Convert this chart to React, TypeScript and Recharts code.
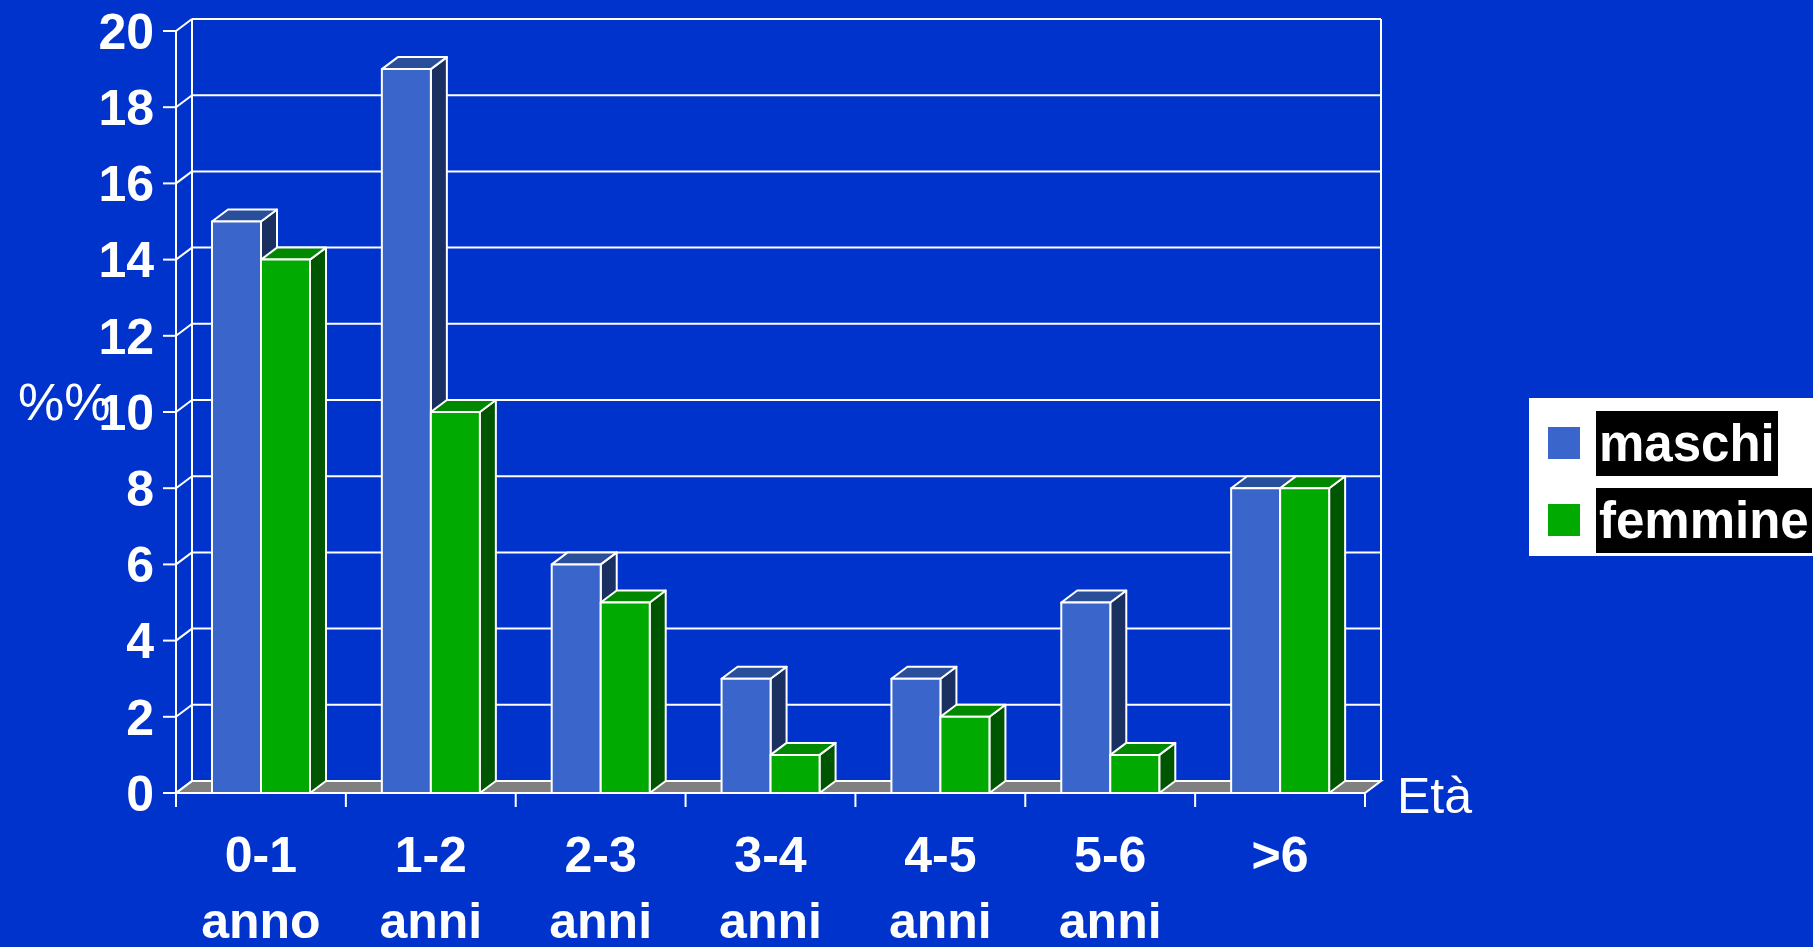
import React from 'react';
import { BarChart, Bar, XAxis, YAxis, CartesianGrid, Legend } from 'recharts';

// age classes, split in two label rows
const ranges = ['0-1', '1-2', '2-3', '3-4', '4-5', '5-6', '>6'];
const units = ['anno', 'anni', 'anni', 'anni', 'anni', 'anni', ''];
const maschi = [15, 19, 6, 3, 3, 5, 8];
const femmine = [14, 10, 5, 1, 2, 1, 8];
const yTicks = [0, 2, 4, 6, 8, 10, 12, 14, 16, 18, 20];
const seriesOrder = ['maschi', 'femmine'];

const data = ranges.map((r, i) => ({ range: r, maschi: maschi[i], femmine: femmine[i] }));

const W = 1813;
const H = 947;
const DX = 16; // 3d depth
const DY = 12;
const PLOT_TOP = 31;
const PLOT_BOTTOM = 793;
const PLOT_LEFT = 176;
const PLOT_RIGHT = 1365;
const BAND = (PLOT_RIGHT - PLOT_LEFT) / ranges.length;
const BG = '#0033CC';
const FONT = 'Arial, "Liberation Sans", sans-serif';

const Bar3D = (props: any) => {
  const { x, y, width, height, fill, topFill, sideFill } = props;
  if (!width || height == null) return null;
  const top = `${x},${y} ${x + DX},${y - DY} ${x + width + DX},${y - DY} ${x + width},${y}`;
  const side = `${x + width},${y} ${x + width + DX},${y - DY} ${x + width + DX},${y + height - DY} ${x + width},${y + height}`;
  return (
    <g stroke="#fff" strokeWidth={2} strokeLinejoin="round">
      <polygon points={side} fill={sideFill} />
      <polygon points={top} fill={topFill} />
      <rect x={x} y={y} width={width} height={height} fill={fill} />
    </g>
  );
};

// back wall lines + floor, drawn from the y axis ticks
const wallLine = (p: any) => {
  const { x1, x2, y1, index } = p;
  const bottom = Math.abs(y1 - PLOT_BOTTOM) < 1;
  return (
    <g key={`wall-${index}`} stroke="#fff" strokeWidth={2}>
      {bottom && (
        <polygon
          points={`${x1},${y1} ${x1 + DX},${y1 - DY} ${x2 + DX},${y1 - DY} ${x2},${y1}`}
          fill="#808080"
        />
      )}
      {bottom && <line x1={x1 + DX} y1={PLOT_TOP - DY} x2={x1 + DX} y2={y1 - DY} />}
      {bottom && <line x1={x2 + DX} y1={PLOT_TOP - DY} x2={x2 + DX} y2={y1 - DY} />}
      <line x1={x1 + DX} y1={y1 - DY} x2={x2 + DX} y2={y1 - DY} />
      <line x1={x1} y1={y1} x2={x1 + DX} y2={y1 - DY} />
    </g>
  );
};

const CategoryTick = (props: any) => {
  const { x, y, payload, index } = props;
  const i = ranges.indexOf(payload.value);
  const last = index === ranges.length - 1;
  return (
    <g>
      <line x1={x - BAND / 2} y1={y} x2={x - BAND / 2} y2={y + 14} stroke="#fff" strokeWidth={2} />
      {last && <line x1={x + BAND / 2} y1={y} x2={x + BAND / 2} y2={y + 14} stroke="#fff" strokeWidth={2} />}
      <text x={x} textAnchor="middle" fill="#fff" fontSize={50} fontWeight="bold" fontFamily={FONT}>
        <tspan x={x} y={y + 79}>{payload.value}</tspan>
        {units[i] ? <tspan x={x} y={y + 145}>{units[i]}</tspan> : null}
      </text>
    </g>
  );
};

const LegendBox = (props: any) => {
  const payload = [...(props.payload || [])].sort(
    (a: any, b: any) => seriesOrder.indexOf(a.value) - seriesOrder.indexOf(b.value)
  );
  return (
    <div style={{ position: 'relative', width: 300, height: 158, background: '#fff' }}>
      {payload.map((e: any, i: number) => (
        <div key={e.value} style={{ position: 'absolute', left: 0, top: 13 + i * 77 }}>
          <div style={{ position: 'absolute', left: 19, top: 16, width: 32, height: 32, background: e.color }} />
          <div
            style={{
              position: 'absolute',
              left: 67,
              top: 0,
              height: 65,
              lineHeight: '65px',
              padding: '0 3px',
              background: '#000',
              color: '#fff',
              fontSize: 51,
              fontWeight: 'bold',
              fontFamily: FONT,
              whiteSpace: 'nowrap',
            }}
          >
            {e.value}
          </div>
        </div>
      ))}
    </div>
  );
};

export default function App() {
  return (
    <div style={{ position: 'absolute', left: 0, top: 0, width: W, height: H, background: BG, overflow: 'hidden' }}>
      <svg width={W} height={H} style={{ position: 'absolute', left: 0, top: 0 }}>
        <text x={18} y={420} fill="#fff" fontSize={52} fontFamily={FONT}>%%</text>
        <text x={1397} y={813} fill="#fff" fontSize={50} fontFamily={FONT}>Età</text>
      </svg>
      <div style={{ position: 'absolute', left: 0, top: 0 }}>
        <BarChart
          width={W}
          height={H}
          data={data}
          margin={{ top: PLOT_TOP, right: W - PLOT_RIGHT, bottom: 0, left: 0 }}
          barCategoryGap={36}
          barGap={0}
        >
          <CartesianGrid vertical={false} horizontal={wallLine} />
          <XAxis
            dataKey="range"
            height={H - PLOT_BOTTOM}
            tickSize={0}
            tickMargin={0}
            axisLine={{ stroke: '#fff', strokeWidth: 2 }}
            tickLine={false}
            interval={0}
            tick={<CategoryTick />}
          />
          <YAxis
            domain={[0, 20]}
            ticks={yTicks}
            width={PLOT_LEFT}
            tickSize={13}
            tickMargin={9}
            axisLine={{ stroke: '#fff', strokeWidth: 2 }}
            tickLine={{ stroke: '#fff', strokeWidth: 2 }}
            tick={{ fill: '#fff', fontSize: 50, fontWeight: 'bold', fontFamily: FONT }}
          />
          <Legend
            layout="vertical"
            align="center"
            verticalAlign="middle"
            content={<LegendBox />}
            wrapperStyle={{ left: 1529, top: 398, width: 300, height: 158 }}
          />
          <Bar
            dataKey="maschi"
            name="maschi"
            fill="#3A66CC"
            isAnimationActive={false}
            shape={(p: any) => <Bar3D {...p} topFill="#2A4F9A" sideFill="#1A3060" />}
          />
          <Bar
            dataKey="femmine"
            name="femmine"
            fill="#00AA00"
            isAnimationActive={false}
            shape={(p: any) => <Bar3D {...p} topFill="#008800" sideFill="#005500" />}
          />
        </BarChart>
      </div>
    </div>
  );
}
